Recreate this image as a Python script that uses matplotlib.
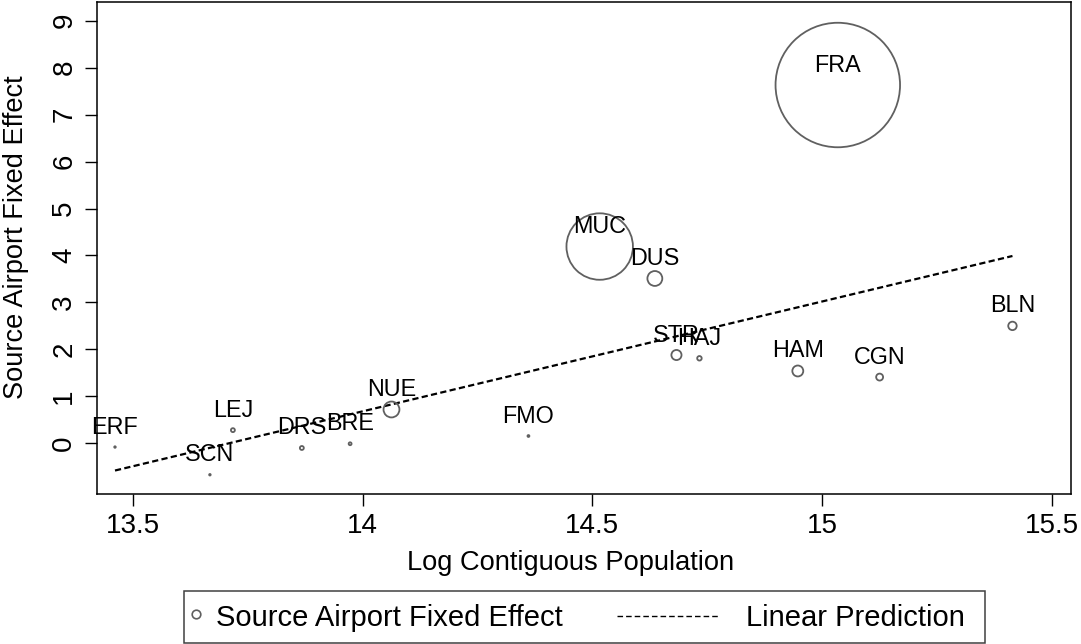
import numpy as np
import matplotlib.pyplot as plt
from matplotlib.lines import Line2D
from matplotlib.patches import Rectangle

plt.rcParams['font.family'] = ['Liberation Sans', 'DejaVu Sans']

# Source airport data
airports = ['ERF', 'SCN', 'LEJ', 'DRS', 'BRE', 'NUE', 'FMO', 'MUC',
            'DUS', 'STR', 'HAJ', 'HAM', 'CGN', 'BLN', 'FRA']
log_pop = [13.4615, 13.668, 13.718, 13.868, 13.973, 14.063, 14.361, 14.516,
           14.636, 14.683, 14.733, 14.947, 15.125, 15.414, 15.034]
fixed_effect = [-0.08, -0.67, 0.28, -0.10, -0.01, 0.72, 0.155, 4.19,
                3.51, 1.88, 1.81, 1.54, 1.41, 2.50, 7.63]
# relative weight (marker area), FRA = 100
weight = [0.015, 0.015, 0.10, 0.10, 0.054, 1.63, 0.023, 28.5,
          1.43, 0.66, 0.13, 0.77, 0.31, 0.46, 100]
# linear prediction: slope, intercept
fit_slope, fit_intercept = 2.34, -32.08

LABEL_FS = 16.8   # marker labels
TICK_FS = 20
TITLE_FS = 19.6
LEGEND_FS = 21
GRAY = '#606060'
W, H = 1081, 644

fig = plt.figure(figsize=(10.81, 6.44), dpi=100)
ax = fig.add_axes([96.7 / W, 1 - 494 / H, (1070.7 - 96.7) / W, 492 / H])

x = np.array(log_pop)
y = np.array(fixed_effect)
sizes = np.array(weight) * 80.35

ax.scatter(x, y, s=sizes, facecolors='none', edgecolors=GRAY, linewidths=1.3, zorder=3)

xl = np.array([x.min(), x.max()])
ax.plot(xl, fit_slope * xl + fit_intercept, color='black', lw=1.6,
        linestyle=(0, (2.8, 1.5)), zorder=2)

for name, xi, yi in zip(airports, x, y):
    ax.annotate(name, (xi, yi), xytext=(0, 14.4), textcoords='offset points',
                ha='center', va='center', fontsize=LABEL_FS, color='black', zorder=4)

ax.set_xlim(13.4217, 15.5407)
ax.set_ylim(-1.080, 9.398)
ax.set_xticks([13.5, 14, 14.5, 15, 15.5])
ax.set_xticklabels(['13.5', '14', '14.5', '15', '15.5'])
ax.set_yticks(range(10))
ax.set_yticklabels([str(i) for i in range(10)], rotation=90, va='center')
ax.tick_params(axis='both', labelsize=TICK_FS, length=8.6, width=1.0, pad=5.4)
for sp in ax.spines.values():
    sp.set_linewidth(1.1)

ax.set_xlabel('Log Contiguous Population', fontsize=TITLE_FS)
ax.xaxis.set_label_coords((571 - 96.7) / 974, (494 - 563) / 492)
ax.xaxis.label.set_va('center')
ax.set_ylabel('Source Airport Fixed Effect', fontsize=TITLE_FS)
ax.yaxis.set_label_coords((16 - 96.7) / 974, (494 - 237.5) / 492)
ax.yaxis.label.set_va('center')

# legend drawn in figure pixels
def fx(px):
    return px / W

def fy(py):
    return 1 - py / H

fig.add_artist(Rectangle((fx(184), fy(642.5)), fx(985) - fx(184), fy(591) - fy(642.5),
                         transform=fig.transFigure, fill=False, ec='#404040', lw=1.1))
fig.add_artist(Line2D([fx(195.7)], [fy(614)], transform=fig.transFigure, marker='o',
                      ms=6.2, mfc='none', mec=GRAY, mew=1.2, ls='none'))
fig.text(fx(215.7), fy(626), 'Source Airport Fixed Effect', fontsize=LEGEND_FS, va='baseline')
fig.add_artist(Line2D([fx(616.7), fx(718)], [fy(615.7), fy(615.7)], transform=fig.transFigure,
                      color='black', lw=1.0, linestyle=(0, (4, 2.2))))
fig.text(fx(745.7), fy(625.5), 'Linear Prediction', fontsize=LEGEND_FS, va='baseline')

fig.savefig('out.png', dpi=100)
